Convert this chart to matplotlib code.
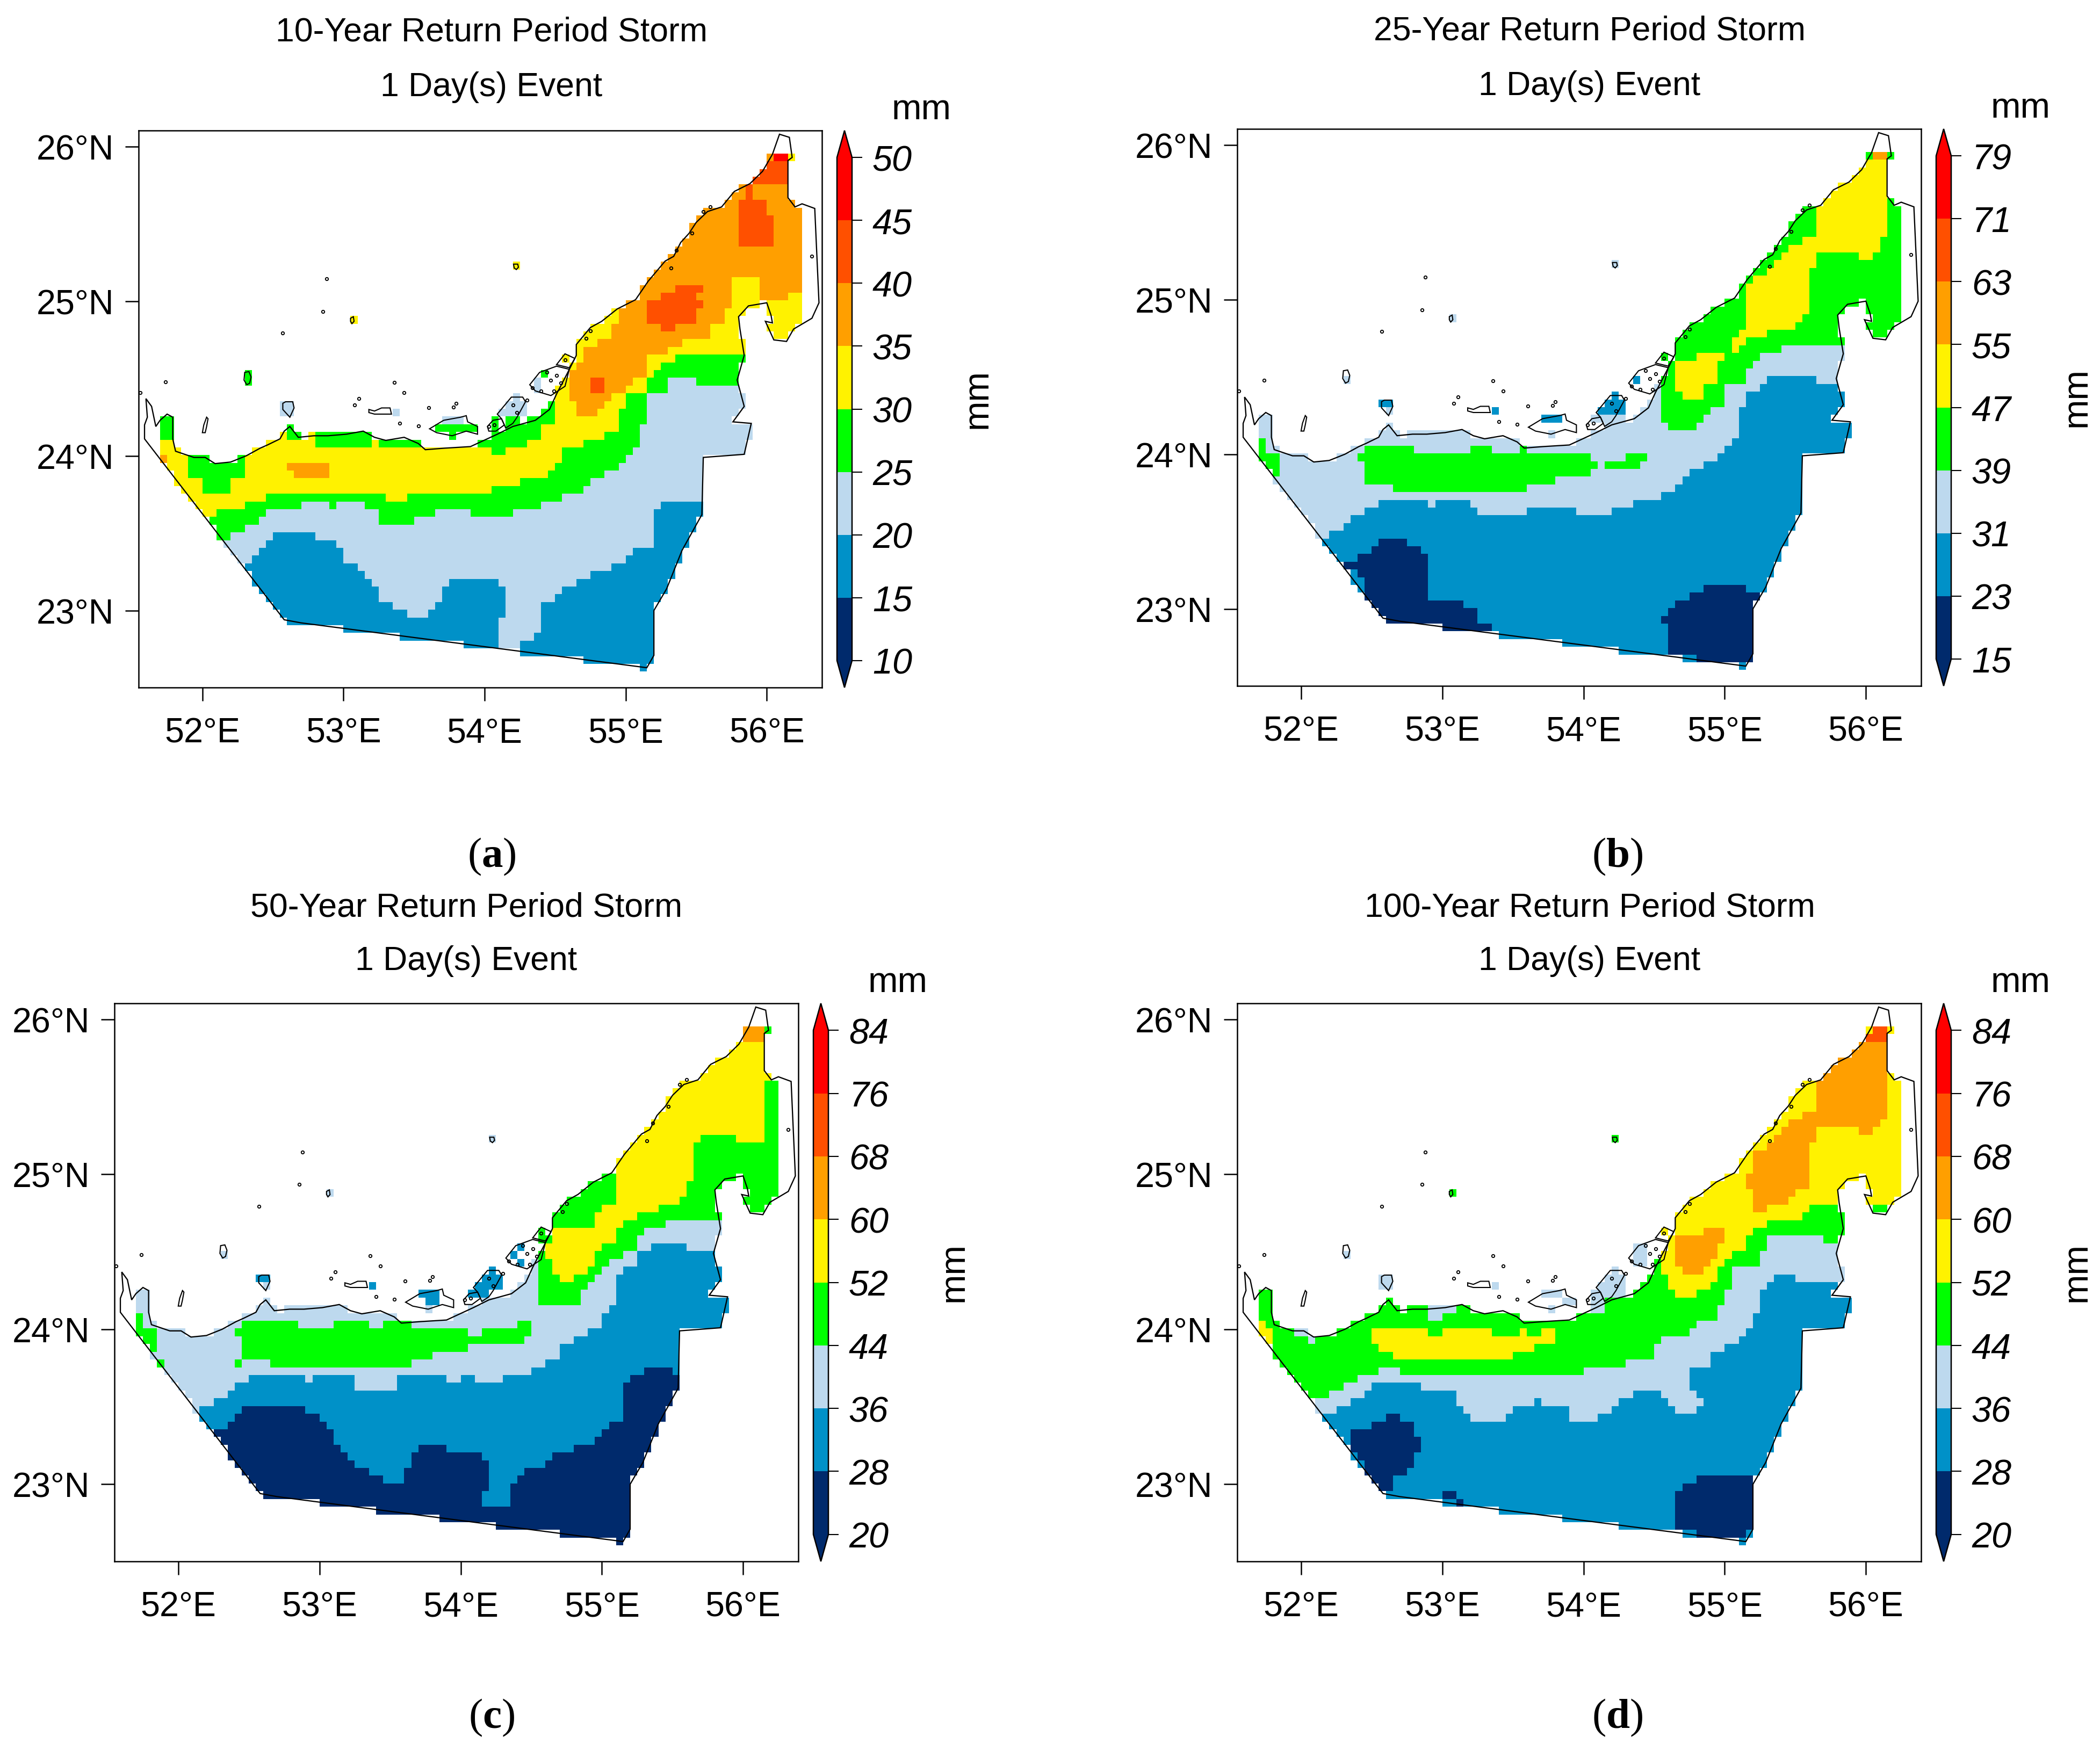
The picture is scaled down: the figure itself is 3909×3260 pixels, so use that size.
#!/usr/bin/env python3
"""Four-panel return period storm maps (1 day event) over the UAE."""
import matplotlib
matplotlib.use("Agg")
import matplotlib.pyplot as plt
from matplotlib.cm import ScalarMappable
from matplotlib.colors import BoundaryNorm, ListedColormap
from matplotlib.path import Path
import numpy as np

plt.rcParams["font.family"] = ["Liberation Sans", "DejaVu Sans"]
plt.rcParams["mathtext.fontset"] = "custom"
plt.rcParams["mathtext.rm"] = "Liberation Serif"
plt.rcParams["mathtext.bf"] = "Liberation Serif:bold"

W, H = 3909, 3261
COLORS = ["#002A6C", "#0091C8", "#BDD9EE", "#00FF00", "#FFF200", "#FF9F00", "#FF5000", "#FF0000"]
DARK, BLUE, LIGHT, GREEN, YELLOW, ORANGE, REDOR, RED = range(8)

LON_EDGES = 51.70 + 0.05 * np.arange(92)
LAT_EDGES = 25.955 - 0.05 * np.arange(68)
LON_TICKS = [52, 53, 54, 55, 56]
LAT_TICKS = [23, 24, 25, 26]

COAST = [
    (51.59, 24.11), (52.58, 22.94), (52.70, 22.92), (55.15, 22.63), (55.20, 22.71), (55.20, 23.00),
    (55.29, 23.14), (55.40, 23.39), (55.54, 23.62), (55.55, 23.99), (55.84, 24.01), (55.89, 24.21),
    (55.76, 24.22), (55.84, 24.32), (55.79, 24.49), (55.84, 24.65), (55.81, 24.82), (55.80, 24.90),
    (55.87, 24.97), (56.00, 24.99), (56.03, 24.91), (56.04, 24.86), (55.99, 24.87), (56.05, 24.75),
    (56.14, 24.74), (56.19, 24.82), (56.32, 24.89), (56.37, 24.99), (56.34, 25.60), (56.25, 25.63),
    (56.20, 25.61), (56.15, 25.67), (56.15, 25.91), (56.18, 25.93), (56.16, 26.06), (56.09, 26.08),
    (56.04, 25.95), (55.97, 25.84), (55.88, 25.76), (55.77, 25.71), (55.68, 25.61), (55.58, 25.58),
    (55.50, 25.51), (55.45, 25.44), (55.39, 25.38), (55.34, 25.29), (55.28, 25.26), (55.16, 25.13),
    (55.07, 25.01), (54.94, 24.95), (54.83, 24.87), (54.75, 24.83), (54.65, 24.72), (54.65, 24.65),
    (54.59, 24.54), (54.51, 24.40), (54.46, 24.30), (54.36, 24.23), (54.20, 24.19), (54.09, 24.14),
    (53.90, 24.06), (53.72, 24.05), (53.58, 24.04), (53.53, 24.08), (53.43, 24.12), (53.30, 24.10),
    (53.22, 24.12), (53.14, 24.16), (53.02, 24.14), (52.89, 24.13), (52.79, 24.13), (52.68, 24.12),
    (52.62, 24.19), (52.58, 24.16), (52.55, 24.11), (52.46, 24.07), (52.41, 24.05), (52.31, 24.00),
    (52.20, 23.96), (52.09, 23.95), (52.02, 23.99), (51.94, 23.99), (51.81, 24.03), (51.79, 24.11),
    (51.79, 24.25), (51.75, 24.27), (51.70, 24.23), (51.67, 24.19), (51.64, 24.32), (51.60, 24.37),
    (51.61, 24.25), (51.59, 24.20),
]
ISLANDS = [
    [(52.30, 24.54), (52.33, 24.545), (52.345, 24.51), (52.335, 24.47), (52.315, 24.46), (52.295, 24.49)],
    [(52.57, 24.34), (52.59, 24.35), (52.64, 24.35), (52.65, 24.31), (52.62, 24.25), (52.60, 24.27), (52.57, 24.30)],
    [(53.05, 24.89), (53.07, 24.90), (53.075, 24.87), (53.06, 24.855), (53.05, 24.87)],
    [(54.205, 25.24), (54.235, 25.24), (54.24, 25.22), (54.225, 25.205), (54.21, 25.215)],
    [(52.03, 24.25), (52.04, 24.24), (52.03, 24.19), (52.02, 24.15), (52.00, 24.15), (52.01, 24.20)],
    [(53.18, 24.30), (53.22, 24.29), (53.27, 24.31), (53.33, 24.31), (53.34, 24.27), (53.28, 24.27), (53.22, 24.27), (53.18, 24.28)],
    [(53.61, 24.175), (53.71, 24.23), (53.83, 24.25), (53.87, 24.26), (53.88, 24.22), (53.95, 24.19), (53.95, 24.14),
     (53.87, 24.16), (53.77, 24.13), (53.66, 24.15)],
    [(54.09, 24.27), (54.19, 24.38), (54.27, 24.38), (54.29, 24.35), (54.23, 24.25), (54.20, 24.21), (54.15, 24.18), (54.12, 24.24)],
    [(54.02, 24.19), (54.06, 24.23), (54.12, 24.24), (54.14, 24.20), (54.08, 24.16), (54.03, 24.16)],
    [(54.32, 24.46), (54.39, 24.54), (54.51, 24.58), (54.60, 24.56), (54.57, 24.45), (54.47, 24.39), (54.36, 24.42)],
    [(54.51, 24.59), (54.57, 24.66), (54.64, 24.63), (54.60, 24.57)],
]
ISLET_LON = [52.88, 52.57, 52.855, 51.74, 51.56, 53.36, 53.43, 53.11, 53.08, 53.40, 53.53, 53.605, 53.78, 53.80, 56.32,
             54.44, 54.47, 54.51, 54.54, 54.49, 54.57, 54.75, 54.72, 55.55, 55.60, 55.47, 55.36, 55.32, 54.20, 54.07,
             54.03, 54.23, 54.30, 54.34, 54.40]
ISLET_LAT = [25.145, 24.795, 24.935, 24.48, 24.41, 24.475, 24.41, 24.37, 24.33, 24.21, 24.195, 24.31, 24.315, 24.34, 25.29,
             24.54, 24.49, 24.52, 24.47, 24.42, 24.62, 24.81, 24.76, 25.58, 25.61, 25.44, 25.33, 25.215, 24.33, 24.20,
             24.19, 24.28, 24.36, 24.44, 24.42]

# ---- panel a: 10-year
A_LEVELS = [10, 15, 20, 25, 30, 35, 40, 45, 50]
A_LIGHT = [(52.30, 23.305), (52.40, 23.40), (52.55, 23.505), (52.80, 23.505), (52.80, 23.455), (52.95, 23.455), (53.00, 23.405),
           (53.00, 23.305), (53.10, 23.305), (53.20, 23.155), (53.30, 23.055), (53.40, 23.005), (53.50, 22.955), (53.60, 22.955),
           (53.60, 23.005), (53.70, 23.055), (53.70, 23.155), (53.75, 23.205), (54.10, 23.205), (54.15, 23.155), (54.15, 22.955),
           (54.10, 22.955), (54.10, 22.755), (54.25, 22.755), (54.25, 22.805), (54.35, 22.805), (54.35, 22.855), (54.40, 22.855),
           (54.40, 23.005), (54.45, 23.055), (54.55, 23.105), (54.60, 23.155), (54.70, 23.205), (54.80, 23.255), (54.95, 23.305),
           (55.05, 23.355), (55.10, 23.405), (55.20, 23.405), (55.20, 23.655), (55.25, 23.705), (55.55, 23.705)]
A_GREEN = [(52.15, 23.455), (52.25, 23.505), (52.35, 23.555), (52.45, 23.605), (52.50, 23.655), (52.70, 23.655), (52.70, 23.705),
           (52.90, 23.705), (52.90, 23.655), (52.95, 23.655), (52.95, 23.705), (53.15, 23.705), (53.15, 23.655), (53.25, 23.655),
           (53.25, 23.605), (53.30, 23.555), (53.50, 23.555), (53.50, 23.605), (53.65, 23.605), (53.65, 23.655), (53.90, 23.655),
           (53.90, 23.605), (54.20, 23.605), (54.20, 23.655), (54.40, 23.655), (54.40, 23.705), (54.55, 23.705), (54.55, 23.755),
           (54.70, 23.755), (54.70, 23.805), (54.80, 23.855), (54.90, 23.905), (55.00, 23.955), (55.05, 24.005), (55.10, 24.055),
           (55.10, 24.205), (55.15, 24.205), (55.15, 24.355), (55.20, 24.405), (55.30, 24.405), (55.30, 24.455), (55.35, 24.505),
           (55.50, 24.505), (55.50, 24.455), (55.90, 24.455)]
A_YELLOW = [(52.05, 23.555), (52.10, 23.605), (52.15, 23.655), (52.30, 23.655), (52.30, 23.705), (52.45, 23.705), (52.45, 23.755),
            (53.30, 23.755), (53.30, 23.705), (53.45, 23.705), (53.45, 23.755), (54.05, 23.755), (54.05, 23.805), (54.25, 23.805),
            (54.25, 23.855), (54.45, 23.855), (54.50, 23.955), (54.55, 23.955), (54.55, 24.055), (54.70, 24.055), (54.70, 24.105),
            (54.85, 24.105), (54.85, 24.155), (54.95, 24.155), (54.95, 24.255), (55.00, 24.355), (55.05, 24.405), (55.15, 24.405),
            (55.15, 24.455), (55.30, 24.605), (55.40, 24.655), (55.80, 24.655)]
A_GREEN_PATCHES = [
    [(51.70, 24.255), (51.80, 24.255), (51.80, 24.105), (51.70, 24.105)],
    [(51.90, 24.05), (52.30, 24.05), (52.30, 23.855), (52.25, 23.855), (52.20, 23.805), (52.20, 23.755), (52.00, 23.755),
     (52.00, 23.805), (51.95, 23.855), (51.90, 23.855)],
    [(52.80, 24.20), (53.20, 24.20), (53.20, 24.055), (52.80, 24.055)],
    [(53.25, 24.20), (53.30, 24.20), (53.30, 24.105), (53.55, 24.105), (53.55, 24.055), (53.25, 24.055)],
    [(52.60, 24.25), (52.65, 24.25), (52.65, 24.155), (52.75, 24.155), (52.75, 24.105), (52.60, 24.105)],
    [(53.90, 24.055), (54.05, 24.055), (54.05, 24.005), (54.15, 24.005), (54.15, 24.055), (54.30, 24.055), (54.30, 24.105),
     (54.40, 24.105), (54.40, 24.155), (54.45, 24.205), (54.50, 24.205), (54.50, 24.455), (54.20, 24.455), (53.90, 24.15)],
]
A_ORANGE = [
    [(54.65, 24.255), (54.80, 24.255), (54.80, 24.305), (54.90, 24.355), (54.95, 24.405), (55.00, 24.405), (55.15, 24.555),
     (55.15, 24.605), (55.20, 24.655), (55.30, 24.655), (55.30, 24.705), (55.40, 24.705), (55.40, 24.755), (55.60, 24.755),
     (55.60, 24.805), (55.65, 24.855), (55.70, 24.855), (55.70, 24.955), (55.75, 24.955), (55.75, 25.155), (55.95, 25.155),
     (55.95, 25.055), (56.00, 25.005), (56.15, 25.005), (56.15, 25.055), (56.25, 25.055), (56.25, 25.65), (56.15, 25.70),
     (56.15, 25.955), (56.00, 25.955), (55.50, 25.80), (55.00, 25.30), (54.95, 24.955), (54.95, 24.855), (54.90, 24.855),
     (54.90, 24.755), (54.80, 24.755), (54.80, 24.705), (54.70, 24.705), (54.70, 24.655), (54.60, 24.505), (54.60, 24.355),
     (54.65, 24.355)],
    [(52.60, 23.955), (52.90, 23.955), (52.90, 23.855), (52.65, 23.855), (52.65, 23.905), (52.60, 23.905)],
    [(51.70, 24.005), (51.75, 24.005), (51.75, 23.955), (51.70, 23.955)],
]
A_REDOR = [
    [(55.80, 25.655), (56.00, 25.655), (56.00, 25.555), (56.05, 25.555), (56.05, 25.355), (55.80, 25.355)],
    [(55.35, 25.105), (55.55, 25.105), (55.55, 25.055), (55.50, 25.055), (55.50, 25.005), (55.55, 25.005), (55.55, 24.955),
     (55.50, 24.955), (55.50, 24.855), (55.35, 24.855), (55.35, 24.805), (55.25, 24.805), (55.25, 24.855), (55.15, 24.855),
     (55.15, 25.005), (55.25, 25.005), (55.25, 25.055), (55.35, 25.055)],
    [(54.75, 24.505), (54.85, 24.505), (54.85, 24.405), (54.75, 24.405)],
    [(55.90, 25.805), (56.00, 25.905), (56.15, 25.905), (56.15, 25.755), (55.90, 25.755), (55.90, 25.655), (55.85, 25.655),
     (55.85, 25.755)],
]
A_RED = [(56.05, 25.955), (56.15, 25.955), (56.15, 25.905), (56.05, 25.905)]
# island cells: lon0, lon1, lat0, lat1, class
A_ISLES = [
    (52.30, 52.35, 24.455, 24.555, GREEN), (52.55, 52.65, 24.255, 24.355, LIGHT), (53.05, 53.10, 24.855, 24.905, YELLOW),
    (54.20, 54.25, 25.205, 25.255, YELLOW), (53.35, 53.40, 24.255, 24.305, LIGHT), (53.70, 53.85, 24.205, 24.255, LIGHT),
    (53.65, 53.95, 24.155, 24.205, GREEN), (53.75, 53.80, 24.105, 24.155, GREEN), (54.20, 54.25, 24.355, 24.405, LIGHT),
    (54.15, 54.30, 24.255, 24.355, LIGHT), (54.10, 54.15, 24.255, 24.305, LIGHT), (54.05, 54.10, 24.155, 24.255, GREEN),
    (54.15, 54.25, 24.155, 24.255, GREEN), (54.30, 54.40, 24.205, 24.255, GREEN), (54.40, 54.45, 24.255, 24.305, GREEN),
    (54.35, 54.40, 24.405, 24.505, LIGHT), (54.40, 54.45, 24.505, 24.555, GREEN), (54.55, 54.60, 24.605, 24.655, YELLOW),
]

# ---- panel b: 25-year
B_LEVELS = [15, 23, 31, 39, 47, 55, 63, 71, 79]
B_DARK = [
    [(52.55, 23.455), (52.75, 23.455), (52.75, 23.405), (52.85, 23.405), (52.85, 23.355), (52.90, 23.355), (52.90, 23.055),
     (53.15, 23.055), (53.15, 23.005), (53.25, 23.005), (53.25, 22.905), (53.35, 22.905), (53.35, 22.855), (53.10, 22.855),
     (53.10, 22.80), (52.50, 22.80), (52.50, 23.005), (52.45, 23.055), (52.45, 23.205), (52.40, 23.205), (52.35, 23.255),
     (52.30, 23.305), (52.40, 23.305), (52.40, 23.355), (52.50, 23.355), (52.50, 23.405), (52.55, 23.405)],
    [(54.85, 23.155), (55.15, 23.155), (55.15, 23.105), (55.25, 23.105), (55.25, 23.005), (55.20, 23.005), (55.20, 22.65),
     (54.80, 22.65), (54.80, 22.705), (54.60, 22.705), (54.60, 22.905), (54.55, 22.905), (54.55, 22.955), (54.60, 22.955),
     (54.60, 23.005), (54.65, 23.005), (54.65, 23.055), (54.75, 23.055), (54.75, 23.105), (54.85, 23.105)],
]
B_LIGHT = [(52.15, 23.455), (52.25, 23.505), (52.35, 23.555), (52.40, 23.605), (52.50, 23.655), (52.60, 23.705), (52.90, 23.705),
           (52.90, 23.655), (52.95, 23.655), (52.95, 23.705), (53.20, 23.705), (53.20, 23.655), (53.25, 23.605), (53.60, 23.605),
           (53.60, 23.655), (53.95, 23.655), (53.95, 23.605), (54.20, 23.605), (54.20, 23.655), (54.35, 23.655), (54.35, 23.705),
           (54.55, 23.705), (54.55, 23.755), (54.65, 23.755), (54.70, 23.855), (54.80, 23.905), (54.90, 23.955), (55.00, 24.005),
           (55.05, 24.105), (55.10, 24.105), (55.10, 24.255), (55.15, 24.355), (55.20, 24.405), (55.25, 24.455), (55.35, 24.505),
           (55.65, 24.505), (55.65, 24.455), (56.00, 24.455)]
B_GREEN_NE = [(54.55, 24.205), (54.60, 24.205), (54.60, 24.155), (54.80, 24.155), (54.80, 24.205), (54.85, 24.205), (54.85, 24.255),
              (54.90, 24.305), (55.00, 24.305), (55.00, 24.405), (55.05, 24.455), (55.15, 24.455), (55.15, 24.505), (55.20, 24.555),
              (55.25, 24.605), (55.30, 24.655), (55.40, 24.655), (55.40, 24.705), (55.80, 24.705), (56.50, 24.705), (56.50, 26.20),
              (54.55, 26.20)]
B_GREEN_PATCHES = [
    [(52.45, 24.055), (52.80, 24.055), (52.80, 24.005), (53.20, 24.005), (53.20, 24.055), (53.35, 24.055), (53.35, 24.005),
     (53.55, 24.005), (53.55, 24.055), (53.60, 24.055), (53.60, 24.005), (54.05, 24.005), (54.05, 23.955), (54.10, 23.955),
     (54.10, 23.905), (54.05, 23.905), (54.05, 23.855), (53.80, 23.855), (53.80, 23.805), (53.60, 23.805), (53.60, 23.755),
     (52.65, 23.755), (52.65, 23.805), (52.45, 23.805), (52.45, 23.955), (52.40, 23.955), (52.40, 24.005), (52.45, 24.005)],
    [(54.15, 23.955), (54.30, 23.955), (54.30, 24.005), (54.45, 24.005), (54.45, 23.955), (54.40, 23.955), (54.40, 23.905),
     (54.15, 23.905)],
    [(51.70, 24.105), (51.75, 24.105), (51.75, 24.005), (51.85, 24.005), (51.85, 23.855), (51.75, 23.855), (51.70, 23.955)],
]
B_YELLOW = [
    [(56.15, 25.905), (56.15, 25.405), (56.10, 25.405), (56.10, 25.305), (56.05, 25.305), (56.05, 25.255), (55.95, 25.255),
     (55.95, 25.305), (55.65, 25.305), (55.65, 25.205), (55.60, 25.205), (55.60, 24.905), (55.55, 24.905), (55.55, 24.855),
     (55.50, 24.855), (55.50, 24.805), (55.30, 24.805), (55.30, 24.755), (55.15, 24.755), (55.15, 24.705), (55.10, 24.655),
     (55.05, 24.655), (55.05, 24.755), (55.10, 24.755), (55.10, 24.805), (55.15, 24.805), (55.15, 25.105), (55.25, 25.155),
     (55.35, 25.205), (55.40, 25.305), (55.50, 25.355), (55.60, 25.405), (55.65, 25.405), (55.65, 25.605), (55.80, 25.80),
     (56.00, 25.90)],
    [(54.80, 24.655), (55.05, 24.655), (55.00, 24.605), (54.95, 24.555), (54.95, 24.455), (54.90, 24.455), (54.85, 24.405),
     (54.85, 24.355), (54.70, 24.355), (54.70, 24.405), (54.65, 24.405), (54.65, 24.555), (54.70, 24.605), (54.80, 24.605)],
]
B_ORANGE = [(56.05, 25.955), (56.15, 25.955), (56.15, 25.905), (56.05, 25.905)]
B_ISLES = [
    (52.30, 52.35, 24.455, 24.505, LIGHT), (52.55, 52.65, 24.305, 24.355, BLUE), (52.60, 52.65, 24.255, 24.305, LIGHT),
    (53.05, 53.10, 24.855, 24.905, LIGHT), (54.20, 54.25, 25.205, 25.255, LIGHT), (53.35, 53.40, 24.255, 24.305, BLUE),
    (53.70, 53.85, 24.205, 24.255, BLUE), (53.75, 53.80, 24.105, 24.155, LIGHT), (54.20, 54.25, 24.355, 24.405, BLUE),
    (54.15, 54.30, 24.255, 24.355, BLUE), (54.10, 54.15, 24.255, 24.305, BLUE), (54.05, 54.30, 24.205, 24.255, LIGHT),
    (54.35, 54.40, 24.455, 24.505, BLUE), (54.40, 54.45, 24.255, 24.305, LIGHT), (54.55, 54.60, 24.605, 24.655, GREEN),
]

# ---- panel c: 50-year
C_LEVELS = [20, 28, 36, 44, 52, 60, 68, 76, 84]
C_DARK = [(52.25, 23.355), (52.35, 23.355), (52.35, 23.405), (52.40, 23.405), (52.40, 23.455), (52.45, 23.455), (52.45, 23.505),
          (52.90, 23.505), (52.90, 23.455), (53.00, 23.455), (53.00, 23.405), (53.05, 23.405), (53.05, 23.355), (53.10, 23.355),
          (53.10, 23.305), (53.15, 23.255), (53.20, 23.205), (53.25, 23.155), (53.30, 23.105), (53.40, 23.055), (53.50, 23.005),
          (53.60, 23.005), (53.60, 23.055), (53.65, 23.155), (53.70, 23.205), (53.75, 23.255), (53.90, 23.255), (53.90, 23.205),
          (54.15, 23.205), (54.20, 23.155), (54.20, 22.955), (54.15, 22.955), (54.15, 22.855), (54.35, 22.855), (54.35, 22.955),
          (54.40, 23.005), (54.45, 23.055), (54.50, 23.105), (54.60, 23.105), (54.60, 23.155), (54.65, 23.205), (54.80, 23.205),
          (54.80, 23.255), (54.95, 23.255), (54.95, 23.305), (55.05, 23.355), (55.10, 23.405), (55.15, 23.405), (55.15, 23.605),
          (55.20, 23.705), (55.30, 23.705), (55.30, 23.755), (55.50, 23.755), (55.50, 23.705), (56.00, 23.705)]
C_LIGHT = [(52.15, 23.455), (52.20, 23.505), (52.30, 23.555), (52.40, 23.605), (52.45, 23.655), (52.55, 23.705), (52.90, 23.705),
           (52.90, 23.655), (52.95, 23.655), (52.95, 23.705), (53.25, 23.705), (53.25, 23.655), (53.30, 23.605), (53.55, 23.605),
           (53.55, 23.655), (53.60, 23.705), (53.90, 23.705), (53.90, 23.655), (54.00, 23.655), (54.00, 23.705), (54.10, 23.705),
           (54.10, 23.655), (54.30, 23.655), (54.30, 23.705), (54.50, 23.705), (54.50, 23.755), (54.60, 23.755), (54.60, 23.805),
           (54.70, 23.805), (54.70, 23.855), (54.75, 23.905), (54.85, 23.955), (54.95, 24.005), (55.00, 24.055), (55.05, 24.155),
           (55.10, 24.155), (55.10, 24.305), (55.15, 24.355), (55.20, 24.405), (55.25, 24.455), (55.30, 24.505), (55.40, 24.555),
           (55.60, 24.555), (55.60, 24.505), (56.00, 24.505)]
C_GREEN_NE = [(54.55, 24.155), (54.85, 24.155), (54.85, 24.205), (54.90, 24.255), (54.95, 24.305), (55.00, 24.355), (55.05, 24.405),
              (55.10, 24.455), (55.20, 24.505), (55.25, 24.555), (55.30, 24.655), (55.45, 24.655), (55.45, 24.705), (56.50, 24.705),
              (56.50, 26.20), (54.55, 26.20)]
C_GREEN_PATCHES = [
    [(52.45, 24.055), (52.85, 24.055), (52.85, 24.005), (53.10, 24.005), (53.10, 24.055), (53.35, 24.055), (53.35, 24.005),
     (53.45, 24.005), (53.45, 24.055), (53.65, 24.055), (53.65, 24.005), (54.05, 24.005), (54.05, 23.955), (54.15, 23.955),
     (54.15, 24.005), (54.40, 24.005), (54.40, 24.055), (54.50, 24.055), (54.50, 23.955), (54.45, 23.955), (54.45, 23.905),
     (54.05, 23.905), (54.05, 23.855), (53.80, 23.855), (53.80, 23.805), (53.65, 23.805), (53.65, 23.755), (52.65, 23.755),
     (52.65, 23.805), (52.45, 23.805), (52.45, 23.955), (52.40, 23.955), (52.40, 24.005), (52.45, 24.005)],
    [(52.40, 23.805), (52.45, 23.805), (52.45, 23.755), (52.40, 23.755)],
    [(51.85, 23.805), (51.90, 23.805), (51.90, 23.755), (51.85, 23.755)],
    [(51.70, 24.105), (51.75, 24.105), (51.75, 24.005), (51.85, 24.005), (51.85, 23.855), (51.75, 23.855), (51.70, 23.955)],
]
C_YELLOW = [(56.00, 25.955), (56.15, 25.955), (56.20, 25.655), (56.20, 25.605), (56.15, 25.605), (56.15, 25.205), (55.95, 25.205),
            (55.95, 25.255), (55.70, 25.255), (55.70, 25.205), (55.65, 25.205), (55.65, 24.955), (55.60, 24.955), (55.60, 24.855),
            (55.55, 24.855), (55.55, 24.805), (55.40, 24.805), (55.40, 24.755), (55.25, 24.755), (55.25, 24.705), (55.15, 24.705),
            (55.15, 24.655), (55.10, 24.655), (55.10, 24.555), (55.00, 24.555), (55.00, 24.505), (54.95, 24.505), (54.95, 24.405),
            (54.90, 24.405), (54.90, 24.355), (54.80, 24.355), (54.80, 24.305), (54.70, 24.305), (54.70, 24.355), (54.65, 24.355),
            (54.65, 24.455), (54.60, 24.455), (54.60, 24.505), (54.65, 24.605), (54.65, 24.655), (54.95, 24.655), (54.95, 24.705),
            (55.00, 24.755), (55.05, 24.805), (55.10, 24.805), (55.10, 25.005), (55.00, 25.30), (55.50, 25.80), (55.90, 25.90)]
C_ORANGE = [(56.00, 25.955), (56.15, 25.955), (56.15, 25.855), (56.00, 25.855)]
C_ISLES = [
    (52.30, 52.35, 24.455, 24.505, LIGHT), (52.55, 52.65, 24.305, 24.355, BLUE), (52.60, 52.65, 24.255, 24.305, LIGHT),
    (53.05, 53.10, 24.855, 24.905, LIGHT), (54.20, 54.25, 25.205, 25.255, LIGHT), (53.35, 53.40, 24.255, 24.305, BLUE),
    (53.70, 53.85, 24.205, 24.255, BLUE), (53.75, 53.85, 24.155, 24.205, BLUE), (53.75, 53.80, 24.105, 24.155, LIGHT),
    (54.20, 54.25, 24.355, 24.405, BLUE), (54.15, 54.30, 24.255, 24.355, BLUE), (54.10, 54.15, 24.255, 24.305, BLUE),
    (54.05, 54.20, 24.205, 24.255, BLUE), (54.35, 54.40, 24.455, 24.505, BLUE), (54.40, 54.45, 24.505, 24.555, BLUE),
    (54.40, 54.45, 24.405, 24.455, BLUE), (54.55, 54.60, 24.555, 24.655, GREEN),
]

# ---- panel d: 100-year
D_LEVELS = [20, 28, 36, 44, 52, 60, 68, 76, 84]
D_DARK = [
    [(52.60, 23.455), (52.70, 23.455), (52.70, 23.405), (52.80, 23.405), (52.80, 23.305), (52.85, 23.305), (52.85, 23.205),
     (52.80, 23.205), (52.80, 23.105), (52.75, 23.105), (52.75, 23.055), (52.70, 23.055), (52.65, 23.005), (52.65, 22.955),
     (52.55, 22.955), (52.50, 23.005), (52.45, 23.055), (52.45, 23.155), (52.40, 23.155), (52.40, 23.205), (52.35, 23.205),
     (52.35, 23.305), (52.40, 23.355), (52.50, 23.355), (52.50, 23.405), (52.60, 23.405)],
    [(54.80, 23.055), (55.20, 23.055), (55.20, 22.705), (55.15, 22.705), (55.15, 22.65), (54.80, 22.65), (54.80, 22.705),
     (54.65, 22.705), (54.65, 22.955), (54.70, 22.955), (54.70, 23.005), (54.80, 23.005)],
    [(53.00, 22.955), (53.10, 22.955), (53.10, 22.905), (53.00, 22.905)],
    [(53.10, 22.905), (53.15, 22.905), (53.15, 22.855), (53.10, 22.855)],
]
D_LIGHT = [(52.15, 23.405), (52.20, 23.455), (52.30, 23.505), (52.40, 23.555), (52.50, 23.605), (52.55, 23.655), (52.85, 23.655),
           (52.85, 23.605), (53.10, 23.605), (53.10, 23.555), (53.15, 23.505), (53.20, 23.455), (53.25, 23.405), (53.45, 23.405),
           (53.45, 23.455), (53.55, 23.505), (53.65, 23.505), (53.65, 23.555), (53.70, 23.555), (53.70, 23.505), (53.90, 23.505),
           (53.90, 23.455), (53.95, 23.405), (54.10, 23.405), (54.10, 23.455), (54.20, 23.455), (54.20, 23.505), (54.25, 23.555),
           (54.35, 23.555), (54.35, 23.605), (54.55, 23.605), (54.55, 23.555), (54.60, 23.555), (54.65, 23.455), (54.80, 23.455),
           (54.80, 23.505), (54.85, 23.505), (54.85, 23.555), (54.80, 23.555), (54.80, 23.605), (54.75, 23.605), (54.75, 23.705),
           (54.80, 23.755), (54.90, 23.755), (54.90, 23.805), (54.95, 23.855), (55.05, 23.905), (55.15, 23.955), (55.20, 24.055),
           (55.25, 24.105), (55.25, 24.205), (55.30, 24.305), (55.40, 24.355), (55.50, 24.355), (55.50, 24.305), (56.00, 24.305)]
D_GREEN = [(52.05, 23.555), (52.20, 23.555), (52.20, 23.605), (52.30, 23.605), (52.30, 23.655), (52.40, 23.655), (52.40, 23.705),
           (52.55, 23.705), (52.55, 23.755), (52.70, 23.755), (52.70, 23.705), (54.00, 23.705), (54.00, 23.755), (54.30, 23.755),
           (54.30, 23.805), (54.50, 23.805), (54.50, 23.855), (54.55, 23.905), (54.60, 23.955), (54.75, 23.955), (54.75, 24.005),
           (54.85, 24.055), (54.95, 24.055), (54.95, 24.155), (55.00, 24.205), (55.05, 24.305), (55.05, 24.355), (55.10, 24.405),
           (55.20, 24.405), (55.25, 24.455), (55.30, 24.555), (55.35, 24.605), (55.70, 24.605), (55.70, 24.555), (56.00, 24.555)]
D_LIGHT_PATCHES = [
    [(51.95, 24.055), (52.15, 24.055), (52.15, 23.955), (52.10, 23.955), (52.10, 23.905), (52.05, 23.905), (52.05, 23.955),
     (51.95, 23.955)],
    [(52.90, 24.20), (53.10, 24.20), (53.10, 24.105), (53.00, 24.105), (53.00, 24.055), (52.90, 24.055)],
    [(53.95, 24.105), (54.15, 24.105), (54.15, 24.30), (53.95, 24.30)],
]
D_YELLOW = [
    [(54.55, 24.355), (54.60, 24.355), (54.60, 24.255), (54.65, 24.255), (54.65, 24.205), (54.80, 24.205), (54.80, 24.255),
     (54.90, 24.255), (54.90, 24.305), (54.95, 24.305), (54.95, 24.355), (55.00, 24.405), (55.05, 24.455), (55.10, 24.505),
     (55.15, 24.555), (55.20, 24.605), (55.25, 24.655), (55.35, 24.705), (55.55, 24.705), (55.55, 24.755), (55.65, 24.805),
     (56.50, 24.805), (56.50, 26.20), (54.55, 26.20)],
    [(52.50, 24.005), (52.90, 24.005), (52.90, 23.955), (53.00, 23.955), (53.00, 24.005), (53.35, 24.005), (53.35, 23.955),
     (53.55, 23.955), (53.55, 24.005), (53.60, 24.005), (53.60, 23.955), (53.70, 23.955), (53.70, 24.005), (53.80, 24.005),
     (53.80, 23.905), (53.65, 23.905), (53.65, 23.855), (53.50, 23.855), (53.50, 23.805), (52.65, 23.805), (52.65, 23.855),
     (52.55, 23.855), (52.55, 23.905), (52.50, 23.905)],
    [(51.70, 24.055), (51.75, 24.055), (51.75, 24.005), (51.80, 24.005), (51.80, 23.905), (51.70, 23.905)],
]
D_ORANGE = [
    [(56.15, 25.855), (56.15, 25.355), (56.10, 25.355), (56.10, 25.305), (56.05, 25.305), (56.05, 25.255), (55.95, 25.255),
     (55.95, 25.305), (55.65, 25.305), (55.65, 25.205), (55.60, 25.205), (55.60, 24.905), (55.45, 24.855), (55.45, 24.805),
     (55.30, 24.805), (55.30, 24.755), (55.20, 24.755), (55.20, 24.855), (55.15, 24.905), (55.15, 25.005), (55.20, 25.005),
     (55.20, 25.105), (55.25, 25.155), (55.35, 25.205), (55.40, 25.305), (55.50, 25.355), (55.60, 25.405), (55.65, 25.405),
     (55.65, 25.605), (55.80, 25.75), (55.95, 25.855)],
    [(54.85, 24.655), (55.00, 24.655), (55.00, 24.555), (54.95, 24.555), (54.95, 24.455), (54.90, 24.455), (54.90, 24.405),
     (54.85, 24.405), (54.85, 24.355), (54.70, 24.355), (54.70, 24.405), (54.65, 24.405), (54.65, 24.605), (54.85, 24.605)],
]
D_REDOR = [(56.00, 25.855), (56.05, 25.955), (56.15, 25.955), (56.15, 25.855)]
D_ISLES = [
    (52.30, 52.35, 24.455, 24.505, LIGHT), (52.55, 52.65, 24.255, 24.355, LIGHT), (53.05, 53.10, 24.855, 24.905, GREEN),
    (54.20, 54.25, 25.205, 25.255, GREEN), (53.35, 53.40, 24.255, 24.305, LIGHT), (53.70, 53.85, 24.205, 24.255, LIGHT),
    (53.85, 53.95, 24.155, 24.205, LIGHT), (53.75, 53.80, 24.105, 24.155, LIGHT), (54.20, 54.25, 24.355, 24.405, LIGHT),
    (54.15, 54.30, 24.255, 24.355, LIGHT), (54.10, 54.15, 24.255, 24.305, LIGHT), (54.05, 54.30, 24.155, 24.255, LIGHT),
    (54.35, 54.45, 24.405, 24.555, LIGHT), (54.55, 54.60, 24.605, 24.655, YELLOW),
]


def north_of(edge):
    return edge + [(56.5, edge[-1][1]), (56.5, 26.2), (51.5, 26.2), (51.5, edge[0][1])]


def south_of(edge):
    return edge + [(56.5, edge[-1][1]), (56.5, 22.4), (51.5, 22.4), (51.5, edge[0][1])]


PANELS = [
    dict(title="10-Year Return Period Storm", levels=A_LEVELS, tag="a", isles=A_ISLES, box=(258, 1530, 244, 1281),
         title_x=915, title_y=(60, 162), base=BLUE,
         layers=[(LIGHT, north_of(A_LIGHT)), (GREEN, north_of(A_GREEN)), (YELLOW, north_of(A_YELLOW))]
         + [(GREEN, p) for p in A_GREEN_PATCHES] + [(ORANGE, p) for p in A_ORANGE]
         + [(REDOR, p) for p in A_REDOR] + [(RED, A_RED)]),
    dict(title="25-Year Return Period Storm", levels=B_LEVELS, tag="b", isles=B_ISLES, box=(2303, 3576, 241, 1278),
         title_x=2959, title_y=(58, 160), base=BLUE,
         layers=[(DARK, p) for p in B_DARK] + [(LIGHT, north_of(B_LIGHT)), (GREEN, B_GREEN_NE)]
         + [(GREEN, p) for p in B_GREEN_PATCHES] + [(YELLOW, p) for p in B_YELLOW] + [(ORANGE, B_ORANGE)]),
    dict(title="50-Year Return Period Storm", levels=C_LEVELS, tag="c", isles=C_ISLES, box=(213, 1486, 1869, 2908),
         title_x=868, title_y=(1690, 1790), base=BLUE,
         layers=[(DARK, south_of(C_DARK)), (LIGHT, north_of(C_LIGHT)), (GREEN, C_GREEN_NE)]
         + [(GREEN, p) for p in C_GREEN_PATCHES] + [(YELLOW, C_YELLOW), (ORANGE, C_ORANGE)]),
    dict(title="100-Year Return Period Storm", levels=D_LEVELS, tag="d", isles=D_ISLES, box=(2303, 3576, 1869, 2908),
         title_x=2959, title_y=(1690, 1790), base=BLUE,
         layers=[(DARK, p) for p in D_DARK] + [(LIGHT, north_of(D_LIGHT)), (GREEN, north_of(D_GREEN))]
         + [(LIGHT, p) for p in D_LIGHT_PATCHES] + [(YELLOW, p) for p in D_YELLOW]
         + [(ORANGE, p) for p in D_ORANGE] + [(REDOR, D_REDOR)]),
]
TAG_POS = {"a": (915, 1595), "b": (3011, 1595), "c": (915, 3198), "d": (3011, 3198)}


def build_grid(panel):
    lon_c = 0.5 * (LON_EDGES[:-1] + LON_EDGES[1:])
    lat_c = 0.5 * (LAT_EDGES[:-1] + LAT_EDGES[1:])
    lons, lats = np.meshgrid(lon_c, lat_c)
    pts = np.column_stack([lons.ravel(), lats.ravel()])
    grid = np.full(lons.shape, panel["base"], dtype=float)
    for cls, poly in panel["layers"]:
        grid[Path(poly).contains_points(pts).reshape(lons.shape)] = cls
    coast = Path(COAST)
    land = np.zeros(lons.shape, dtype=bool)
    for dx, dy in [(0, 0), (0.005, 0), (-0.005, 0), (0, 0.005), (0, -0.005)]:
        land |= coast.contains_points(pts + [dx, dy]).reshape(lons.shape)
    isle = np.zeros(lons.shape, dtype=bool)
    for lon0, lon1, lat0, lat1, cls in panel["isles"]:
        box = (lons > lon0) & (lons < lon1) & (lats > lat0) & (lats < lat1)
        grid[box & ~land] = cls
        isle |= box
    return np.ma.masked_where(~(land | isle), grid)


def add_panel(fig, panel):
    left, right, top, bottom = panel["box"]
    ax = fig.add_axes([left / W, 1 - bottom / H, (right - left) / W, (bottom - top) / H])
    cmap = ListedColormap(COLORS)
    ax.pcolormesh(LON_EDGES, LAT_EDGES, build_grid(panel), cmap=cmap, vmin=-0.5, vmax=7.5,
                  shading="flat", antialiased=False, linewidth=0)
    ax.add_patch(plt.Polygon(COAST, closed=True, fill=False, ec="black", lw=0.55))
    for verts in ISLANDS:
        ax.add_patch(plt.Polygon(verts, closed=True, fill=False, ec="black", lw=0.5))
    ax.plot(ISLET_LON, ISLET_LAT, "o", ms=1.3, mfc="none", mec="black", mew=0.45)
    ax.set_xlim(51.548, 56.391)
    ax.set_ylim(22.502, 26.104)
    ax.set_xticks(LON_TICKS)
    ax.set_xticklabels([f"{t}°E" for t in LON_TICKS])
    ax.set_yticks(LAT_TICKS)
    ax.set_yticklabels([f"{t}°N" for t in LAT_TICKS])
    ax.tick_params(axis="both", length=6, width=0.6, labelsize=15.5)
    ax.tick_params(axis="x", pad=7)
    ax.tick_params(axis="y", pad=5)
    for spine in ax.spines.values():
        spine.set_linewidth(0.6)

    # colour key with pointed ends, apex to apex it spans the map frame
    cax = fig.add_axes([(right + 28) / W, 1 - bottom / H, 28 / W, (bottom - top) / H])
    levels = panel["levels"]
    key_cmap = ListedColormap(COLORS).with_extremes(under=COLORS[0], over=COLORS[-1])
    norm = BoundaryNorm(levels, len(COLORS))
    cbar = fig.colorbar(ScalarMappable(norm=norm, cmap=key_cmap), cax=cax, extend="both",
                        extendfrac=0.0535, ticks=levels, spacing="uniform")
    cbar.ax.tick_params(length=4.6, width=0.5, labelsize=16, pad=4.5)
    cbar.ax.minorticks_off()
    cbar.outline.set_linewidth(0.6)
    for lab in cbar.ax.get_yticklabels():
        lab.set_fontstyle("italic")

    def text_px(x, y, s, **kw):
        fig.text(x / W, 1 - y / H, s, ha="center", va="center", **kw)

    text_px(panel["title_x"], panel["title_y"][0], panel["title"], fontsize=15)
    text_px(panel["title_x"], panel["title_y"][1], "1 Day(s) Event", fontsize=15)
    text_px(right + 185, top - 39, "mm", fontsize=16)
    text_px(right + 290, (top + bottom) / 2 - 20, "mm", fontsize=16, rotation=90)
    tx, ty = TAG_POS[panel["tag"]]
    text_px(tx, ty, rf"($\mathbf{{{panel['tag']}}}$)", fontsize=19, family="Liberation Serif")


fig = plt.figure(figsize=(W / 300, H / 300), dpi=300)
for panel in PANELS:
    add_panel(fig, panel)
fig.savefig("out.png", dpi=300)
plt.close(fig)
